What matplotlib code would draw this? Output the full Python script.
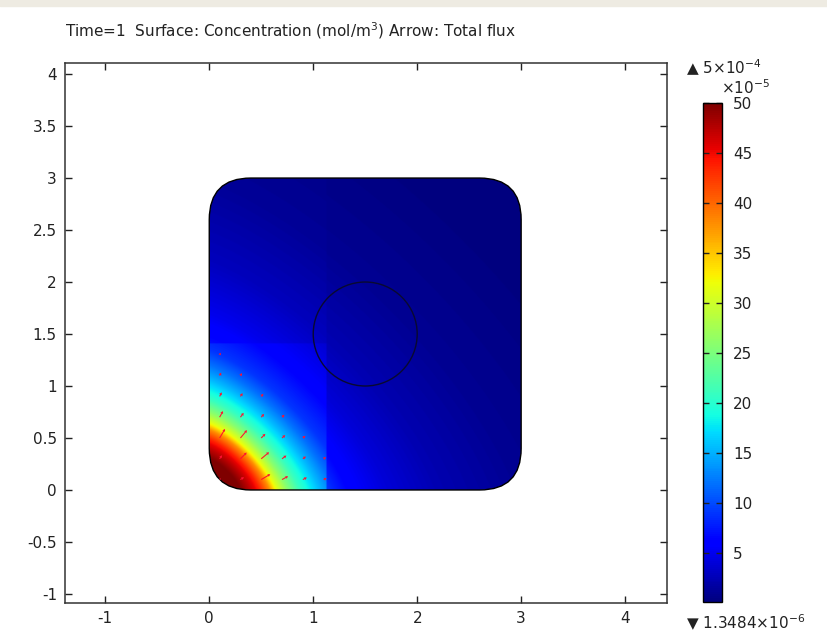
import numpy as np
import matplotlib
matplotlib.use("Agg")
import matplotlib.pyplot as plt
from matplotlib.patches import FancyBboxPatch, Circle, Rectangle

# concentration (x1e-5 mol/m^3) read along the domain edges, vs distance from the corner
edge_pos = [0.0, 0.15, 0.30, 0.40, 0.48, 0.58, 0.64, 0.75, 0.87, 1.06, 1.20, 1.35, 1.70, 2.20, 3.00, 4.50]
conc_vals = [53, 52, 50, 47, 44, 38, 32, 26, 21, 15.5, 12, 9, 6, 3.5, 1.5, 0.135]
bulge = 0.6  # contours bulge slightly outward along the diagonal
# darker blocks of the mesh right of x=1.13 and above y=1.41
block_x = 1.13
block_y = 1.41
factor_x = 0.68
factor_y = 0.82

# arrow sample grid
arrow_x = [0.1, 0.3, 0.5, 0.7, 0.9, 1.1]
arrow_y = [0.1, 0.3, 0.5, 0.7, 0.9, 1.1, 1.3]

cb_ticks = [5, 10, 15, 20, 25, 30, 35, 40, 45, 50]
cmin, cmax = 0.13484, 50
txt = "#222222"


def dist(x, y):
    s = x + y
    return s - bulge * x * y / np.maximum(s, 1e-9)


fig = plt.figure(figsize=(8.27, 6.37), dpi=100)
fig.patches.append(Rectangle((0, 0.99), 1, 0.01, transform=fig.transFigure,
                             color="#eeebe2", zorder=0))

ax = fig.add_axes([0.0786, 0.0534, 0.7279, 0.8476])
ax.set_xlim(-1.385, 4.40)
ax.set_ylim(-1.087, 4.106)

n = 600
gx = np.linspace(0, 3, n)
X, Y = np.meshgrid(gx, gx)
C = np.interp(dist(X, Y), edge_pos, conc_vals)
C = np.where(X > block_x, C * factor_x, C)
C = np.where((Y > block_y) & (X <= block_x), C * factor_y, C)
C = np.clip(C, cmin, cmax)

im = ax.imshow(C, origin="lower", extent=[0, 3, 0, 3], cmap="jet",
               vmin=cmin, vmax=cmax, interpolation="bilinear", zorder=1)
dom = FancyBboxPatch((0, 0), 3, 3, boxstyle="round,pad=0,rounding_size=0.4",
                     facecolor="none", edgecolor="black", lw=1.0, zorder=3)
ax.add_patch(dom)
im.set_clip_path(dom)

ax.add_patch(Circle((1.5, 1.5), 0.5, fill=False, edgecolor="#0a0a30", lw=1.0, zorder=3))

# total flux arrows, along the concentration gradient
AX, AY = np.meshgrid(arrow_x, arrow_y)
AX, AY = AX.ravel(), AY.ravel()
keep = AX + AY < 1.5
AX, AY = AX[keep], AY[keep]
S = AX + AY
dx = 1 - bulge * AY ** 2 / S ** 2
dy = 1 - bulge * AX ** 2 / S ** 2
grad = -np.gradient(conc_vals, edge_pos)
mag = np.interp(dist(AX, AY), edge_pos, grad)
mag = np.where(AX > block_x, mag * factor_x, mag)
U = mag * dx * 0.0012
V = mag * dy * 0.0012
ax.quiver(AX, AY, U, V, color="#ff1030", angles="xy", scale_units="xy", scale=1,
          width=0.0018, headwidth=3, headlength=2.5, headaxislength=2.2,
          minlength=0.5, zorder=4)

ax.set_xticks([-1, 0, 1, 2, 3, 4])
ax.set_xticklabels(["-1", "0", "1", "2", "3", "4"])
ax.set_yticks([-1, -0.5, 0, 0.5, 1, 1.5, 2, 2.5, 3, 3.5, 4])
ax.set_yticklabels(["-1", "-0.5", "0", "0.5", "1", "1.5", "2", "2.5", "3", "3.5", "4"])
ax.tick_params(direction="in", top=True, right=True, length=5, width=1,
               labelsize=11, colors=txt, pad=6)
for sp in ax.spines.values():
    sp.set_linewidth(1.1)
    sp.set_color("#333333")

fig.text(0.0786, 0.952, "Time=1  Surface: Concentration (mol/m$^3$) Arrow: Total flux",
         fontsize=11, color=txt, va="center")

cax = fig.add_axes([0.850, 0.055, 0.023, 0.783])
cb = fig.colorbar(im, cax=cax, ticks=cb_ticks)
cb.outline.set_linewidth(1.0)
cax.tick_params(direction="in", length=4, width=1, labelsize=11, colors=txt,
                left=True, right=True, pad=8)

fig.text(0.829, 0.893, "\u25b2 5\u00d710$^{-4}$", fontsize=11, va="center", color=txt)
fig.text(0.872, 0.862, "\u00d710$^{-5}$", fontsize=11, va="center", color=txt)
fig.text(0.829, 0.023, "\u25bc 1.3484\u00d710$^{-6}$", fontsize=11, va="center", color=txt)

fig.savefig("out.png", dpi=100)
